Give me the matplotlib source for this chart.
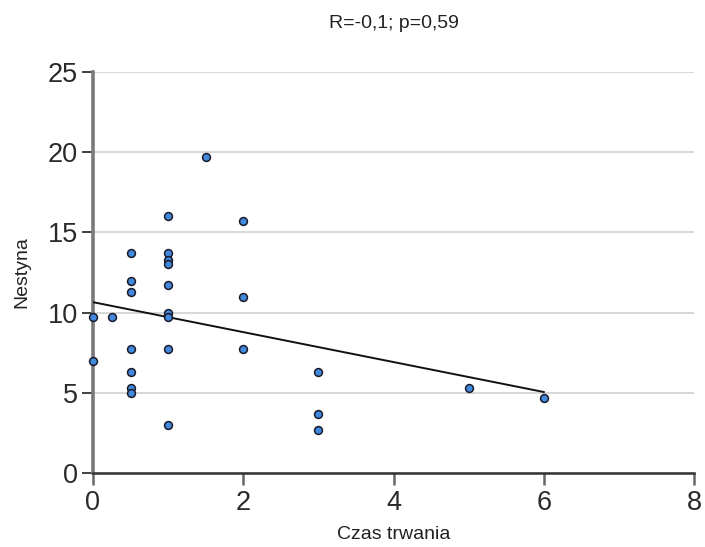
import matplotlib
matplotlib.use("Agg")
import matplotlib.pyplot as plt

plt.rcParams['font.family'] = ['Liberation Sans', 'DejaVu Sans']

title = "R=-0,1; p=0,59"
x_label = "Czas trwania"
y_label = "Nestyna"

czas = [0, 0, 0.25,
        0.5, 0.5, 0.5, 0.5, 0.5, 0.5, 0.5,
        1, 1, 1, 1, 1, 1, 1, 1, 1,
        1.5,
        2, 2, 2,
        3, 3, 3,
        5, 6]
nestyna = [9.7, 7.0, 9.7,
           13.7, 12.0, 11.3, 7.7, 6.3, 5.3, 5.0,
           16.0, 13.7, 13.3, 13.0, 11.7, 10.0, 9.7, 7.7, 3.0,
           19.7,
           15.7, 11.0, 7.7,
           6.3, 3.7, 2.7,
           5.3, 4.7]

trend_x = [0, 6]
trend_y = [10.65, 5.05]

x_ticks = [0, 2, 4, 6, 8]
y_ticks = [0, 5, 10, 15, 20, 25]

fig = plt.figure(figsize=(7.05, 5.47), dpi=100)
ax = fig.add_axes([93/705, 1-473/547, (694-93)/705, (473-72)/547])

ax.set_xlim(0, 8)
ax.set_ylim(0, 25)
ax.set_xticks(x_ticks)
ax.set_yticks(y_ticks)
ax.set_xticklabels([str(t) for t in x_ticks], fontsize=19.5, color='#2a2a2a')
ax.set_yticklabels([str(t) for t in y_ticks], fontsize=19.5, color='#2a2a2a')

ax.yaxis.grid(True, color='#d4d4d4', linewidth=1.3, zorder=0)
ax.set_axisbelow(True)

for s in ['top', 'right']:
    ax.spines[s].set_visible(False)
ax.spines['left'].set_color('#7a7a7a')
ax.spines['left'].set_linewidth(2.6)
ax.spines['bottom'].set_color('#333333')
ax.spines['bottom'].set_linewidth(1.8)
ax.tick_params(axis='y', direction='out', length=8, width=1.3, color='#333333', pad=3)
ax.tick_params(axis='x', direction='out', length=8.5, width=1.8, color='#666666', pad=4)

ax.plot(trend_x, trend_y, color='#111111', linewidth=1.4, zorder=3)
ax.scatter(czas, nestyna, s=32, facecolor='#4189dc', edgecolor='#1a1a2a',
           linewidth=1.1, zorder=4, clip_on=False)

ax.set_xlabel(x_label, fontsize=14, color='#222222', labelpad=7)
ax.set_ylabel(y_label, fontsize=14, color='#222222', labelpad=12)
fig.text((93+694)/2/705, 1-23/547, title, ha='center', va='center', fontsize=14, color='#222222')

fig.savefig("out.png", dpi=100, facecolor='white')
